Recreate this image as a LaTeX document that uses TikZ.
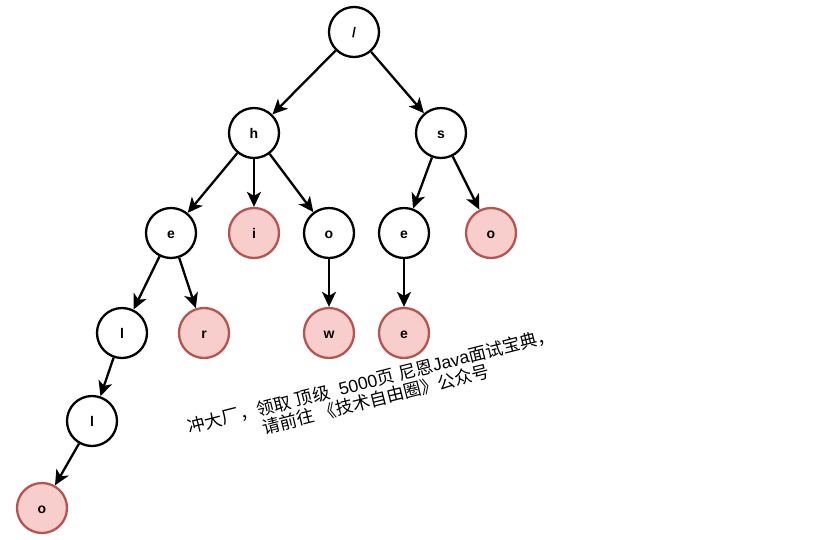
\documentclass[tikz,border=0pt]{standalone}
\usepackage{fontspec}
\setmainfont{Liberation Sans}
\newfontfamily\cjk{Noto Sans CJK SC}
\usetikzlibrary{arrows.meta}
\newcommand{\zh}[1]{{\cjk #1}}
\tikzset{
  trienode/.style={circle,draw=black,line width=2.3pt,minimum size=50pt,inner sep=0pt,text height=10pt,text depth=0pt,font=\fontsize{14}{16}\selectfont\bfseries,text=black},
  leafnode/.style={trienode,draw=leafedge,fill=leaffill},
  edgearrow/.style={draw=black,line width=2.3pt,-{Stealth[length=15pt,width=14pt,inset=4pt]},shorten >=0pt},
  note/.style={font=\fontsize{17.6}{19}\selectfont,align=center,rotate=14.2,inner sep=0pt,text=black}
}
\definecolor{leafedge}{HTML}{B85450}
\definecolor{leaffill}{HTML}{F8CECC}
\begin{document}
\begin{tikzpicture}[x=1pt,y=-1pt]
\useasboundingbox (0,0) rectangle (825,539);
\fill[white] (0,0) rectangle (825,539);
\node[trienode] (root) at (354,32) {/};
\node[trienode] (h) at (254,133) {h};
\node[trienode] (s) at (441,133) {s};
\node[trienode] (e1) at (171,233) {e};
\node[leafnode] (i) at (254,233) {i};
\node[trienode] (o1) at (329,233) {o};
\node[trienode] (e2) at (404,233) {e};
\node[leafnode] (o2) at (491,233) {o};
\node[trienode] (l1) at (122,333) {l};
\node[leafnode] (r) at (204,333) {r};
\node[leafnode] (w) at (329,333) {w};
\node[leafnode] (e3) at (404,333) {e};
\node[trienode] (l2) at (92,421) {l};
\node[leafnode] (o3) at (42,508) {o};
\draw[edgearrow] (root) -- (h);
\draw[edgearrow] (root) -- (s);
\draw[edgearrow] (h) -- (e1);
\draw[edgearrow] (h) -- (i);
\draw[edgearrow] (h) -- (o1);
\draw[edgearrow] (s) -- (e2);
\draw[edgearrow] (s) -- (o2);
\draw[edgearrow] (e1) -- (l1);
\draw[edgearrow] (e1) -- (r);
\draw[edgearrow] (o1) -- (w);
\draw[edgearrow] (e2) -- (e3);
\draw[edgearrow] (l1) -- (l2);
\draw[edgearrow] (l2) -- (o3);
\node[note] (caption) at (373.5,390) {\zh{冲大厂，领取} \zh{顶级} ~5000\zh{页} \zh{尼恩}Java\zh{面试宝典，}\\[0pt]\zh{请前往} \zh{《技术自由圈》公众号}};
\end{tikzpicture}
\end{document}
